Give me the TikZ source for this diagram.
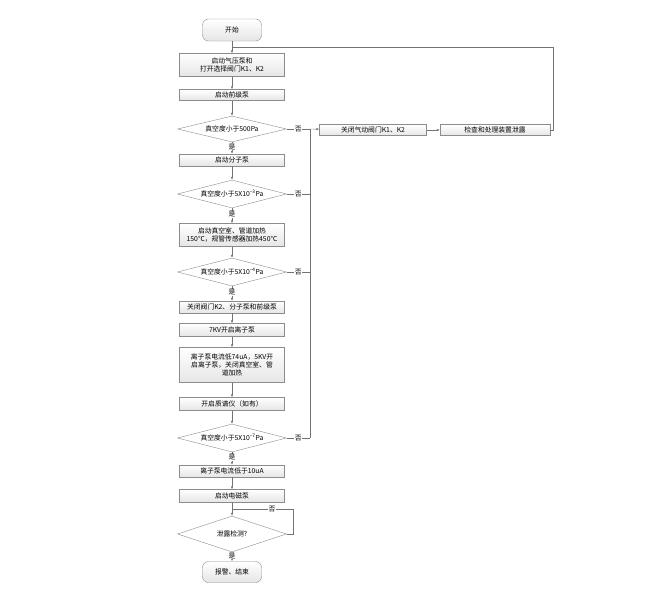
\documentclass[tikz,border=0pt]{standalone}
\usepackage{fontspec}
\newfontfamily\cjk{Noto Sans CJK SC}
\usetikzlibrary{shapes.geometric, arrows.meta, positioning}

\begin{document}
\begin{tikzpicture}[x=1pt, y=-1pt,
      every node/.style={font=\cjk\fontsize{6.8}{8}\selectfont, text=black},
      stepbox/.style={draw=black!45, top color=white, bottom color=black!10,
         minimum width=105pt, inner sep=1pt, align=center},
      termbox/.style={draw=black!45, top color=white, bottom color=black!10,
         rounded corners=6pt, minimum width=59pt, minimum height=22pt},
      decide/.style={diamond, draw=black!45, fill=white, aspect=4,
         minimum width=109pt, minimum height=28pt, inner sep=0pt},
      flow/.style={draw=black!55, -{Latex[length=3pt, width=2.4pt]}},
      link/.style={draw=black!55},
      yes/.style={fill=white, inner sep=0.5pt, pos=0.4},
      no/.style={fill=white, inner sep=0.5pt}]
   \useasboundingbox (0,0) rectangle (661,589);
   % Main column
   \node[termbox] (start) at (232,30) {开始};
   \node[stepbox, minimum height=23pt] (air) at (232,65) {启动气压泵和\\打开选择阀门K1、K2};
   \node[stepbox, minimum height=11pt] (fore) at (232,95) {启动前级泵};
   \node[decide, minimum height=26pt] (v1) at (232,129) {真空度小于500Pa};
   \node[stepbox, minimum height=12pt] (mol) at (232,160) {启动分子泵};
   \node[decide] (v2) at (232,194) {真空度小于5X10\textsuperscript{−3}Pa};
   \node[stepbox, minimum height=23pt] (bake) at (232,235) {启动真空室、管道加热\\150℃，规管传感器加热450℃};
   \node[decide] (v3) at (232,272) {真空度小于5X10\textsuperscript{−4}Pa};
   \node[stepbox, minimum height=12pt] (close) at (232,307) {关闭阀门K2、分子泵和前级泵};
   \node[stepbox, minimum height=13pt] (ion) at (232,330) {7KV开启离子泵};
   \node[stepbox, minimum height=35pt] (ion5) at (232,365) {离子泵电流低74uA，5KV开\\启离子泵，关闭真空室、管\\道加热};
   \node[stepbox, minimum height=13pt] (ms) at (232,404) {开启质谱仪（如有）};
   \node[decide] (v4) at (232,438) {真空度小于5X10\textsuperscript{−7}Pa};
   \node[stepbox, minimum height=12pt] (cur) at (232,471) {离子泵电流低于10uA};
   \node[stepbox, minimum height=13pt] (emp) at (232,496) {启动电磁泵};
   \node[decide, minimum height=36pt] (leak) at (232,534) {泄露检测?};
   \node[termbox, minimum height=21pt] (stop) at (232,572) {报警、结束};
   % Failure branch
   \node[stepbox, minimum width=107pt, minimum height=11pt] (valve) at (373,130) {关闭气动阀门K1、K2};
   \node[stepbox, minimum width=110pt, minimum height=11pt] (fix) at (495,130) {检查和处理装置泄露};
   \coordinate (rail) at (310,129);
   \coordinate (back) at (232,47);
   % Arrows down
   \draw[flow] (start) -- (air);
   \draw[flow] (air) -- (fore);
   \draw[flow] (fore) -- (v1);
   \draw[flow] (v1) -- node[yes] {是} (mol);
   \draw[flow] (mol) -- (v2);
   \draw[flow] (v2) -- node[yes] {是} (bake);
   \draw[flow] (bake) -- (v3);
   \draw[flow] (v3) -- node[yes] {是} (close);
   \draw[flow] (close) -- (ion);
   \draw[flow] (ion) -- (ion5);
   \draw[flow] (ion5) -- (ms);
   \draw[flow] (ms) -- (v4);
   \draw[flow] (v4) -- node[yes] {是} (cur);
   \draw[flow] (cur) -- (emp);
   \draw[flow] (emp) -- (leak);
   \draw[flow] (leak) -- node[yes] {是} (stop);
   % No branches
   \draw[link] (v1.east) -- node[no] {否} (rail);
   \draw[link] (v2.east) -- node[no] {否} (v2.east -| rail);
   \draw[link] (v3.east) -- node[no] {否} (v3.east -| rail);
   \draw[link] (v4.east) -- node[no] {否} (v4.east -| rail);
   \draw[link] (rail) -- (v4.east -| rail);
   \draw[flow] (rail) -- (valve);
   \draw[flow] (valve) -- (fix);
   \draw[link] (fix.east) -- ++(3,0) |- (back);
   % Leak loop
   \draw[link] (leak.east) -- ++(6,0) |- node[no, pos=0.67] {否} (232,509);
\end{tikzpicture}
\end{document}
